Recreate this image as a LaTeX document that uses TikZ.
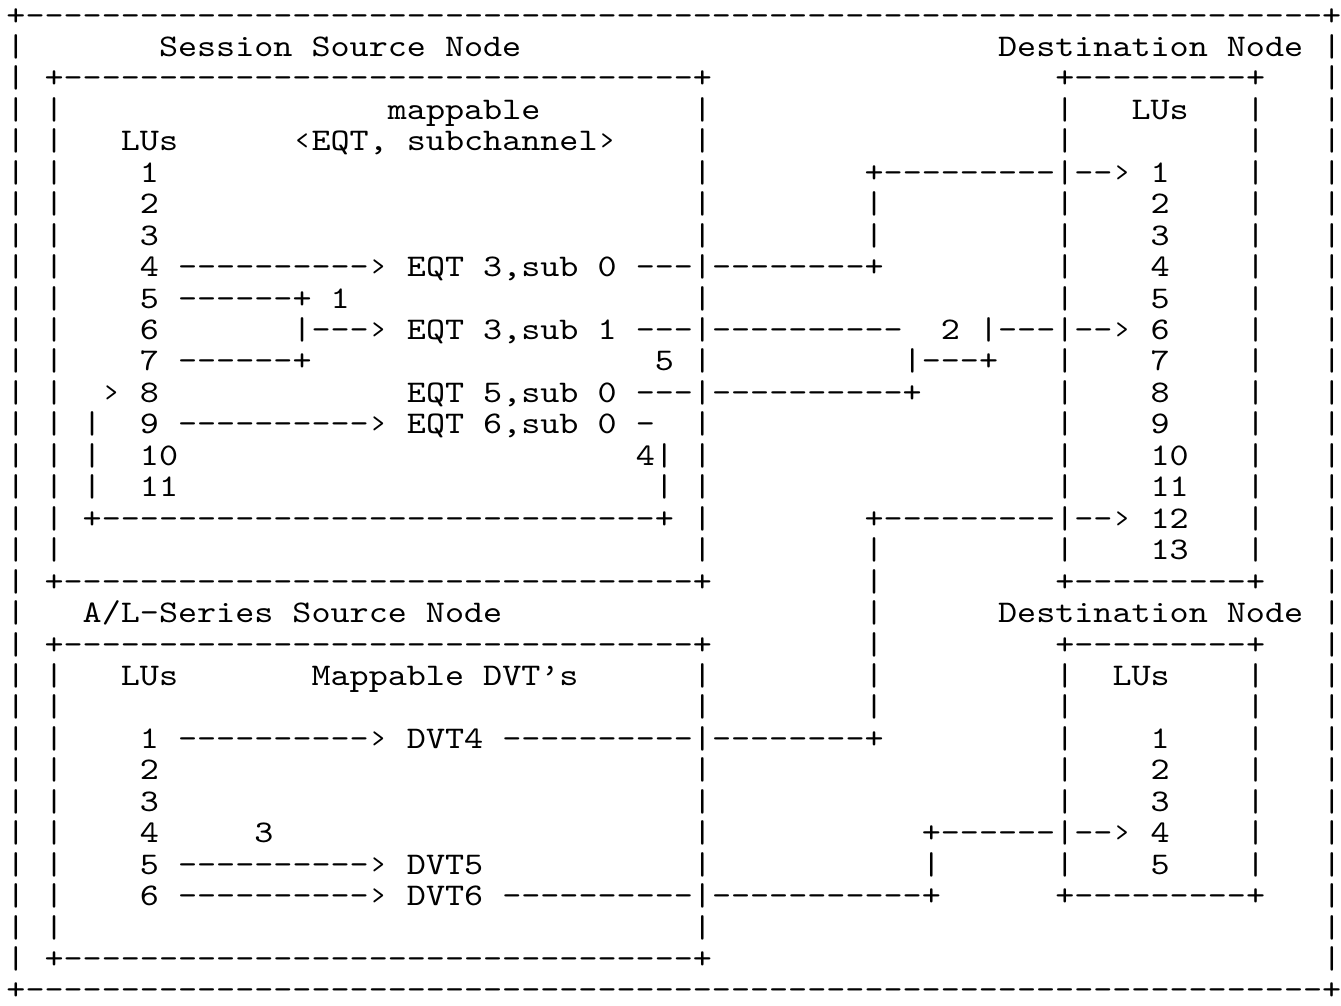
\documentclass[tikz,border=0pt]{standalone}
\usepackage{fontspec}
\setmonofont{lmmono10-regular.otf}[FakeStretch=1.153]
\newcommand\dd[1]{\foreach \k in {1,...,#1}{-}}
% place a text run at a character cell: column, row, text
\newcommand\g[3]{\node[txt] (n#2x#1) at ({16+19.07*#1-9.535},{25+31.45*#2}) {#3};}
\tikzset{txt/.style={anchor=base west, inner sep=0pt, outer sep=0pt,
  font=\ttfamily\fontsize{31.5}{32}\selectfont}}
\begin{document}
\begin{tikzpicture}[x=1pt,y=-1pt]
\useasboundingbox[fill=white] (0,0) rectangle (1341,1005);
% outer frame
\g{0}{0}{+\dd{68}+}
\g{0}{1}{|}\g{8}{1}{Session Source Node}\g{52}{1}{Destination Node}\g{69}{1}{|}
\g{0}{2}{|}\g{2}{2}{+\dd{33}+}\g{55}{2}{+\dd{9}+}\g{69}{2}{|}
\g{0}{3}{|}\g{2}{3}{|}\g{20}{3}{mappable}\g{36}{3}{|}\g{55}{3}{|}\g{59}{3}{LUs}\g{65}{3}{|}\g{69}{3}{|}
\g{0}{4}{|}\g{2}{4}{|}\g{6}{4}{LUs}\g{15}{4}{‹EQT, subchannel›}\g{36}{4}{|}\g{55}{4}{|}\g{65}{4}{|}\g{69}{4}{|}
\g{0}{5}{|}\g{2}{5}{|}\g{7}{5}{1}\g{36}{5}{|}\g{45}{5}{+\dd{9}|--›}\g{60}{5}{1}\g{65}{5}{|}\g{69}{5}{|}
\g{0}{6}{|}\g{2}{6}{|}\g{7}{6}{2}\g{36}{6}{|}\g{45}{6}{|}\g{55}{6}{|}\g{60}{6}{2}\g{65}{6}{|}\g{69}{6}{|}
\g{0}{7}{|}\g{2}{7}{|}\g{7}{7}{3}\g{36}{7}{|}\g{45}{7}{|}\g{55}{7}{|}\g{60}{7}{3}\g{65}{7}{|}\g{69}{7}{|}
\g{0}{8}{|}\g{2}{8}{|}\g{7}{8}{4}\g{9}{8}{\dd{10}›}\g{21}{8}{EQT 3,sub 0}\g{33}{8}{---|\dd{8}+}\g{55}{8}{|}\g{60}{8}{4}\g{65}{8}{|}\g{69}{8}{|}
\g{0}{9}{|}\g{2}{9}{|}\g{7}{9}{5}\g{9}{9}{\dd{6}+}\g{17}{9}{1}\g{36}{9}{|}\g{55}{9}{|}\g{60}{9}{5}\g{65}{9}{|}\g{69}{9}{|}
\g{0}{10}{|}\g{2}{10}{|}\g{7}{10}{6}\g{15}{10}{|---›}\g{21}{10}{EQT 3,sub 1}\g{33}{10}{---|\dd{10}}\g{49}{10}{2}\g{51}{10}{|---|--›}\g{60}{10}{6}\g{65}{10}{|}\g{69}{10}{|}
\g{0}{11}{|}\g{2}{11}{|}\g{7}{11}{7}\g{9}{11}{\dd{6}+}\g{34}{11}{5}\g{36}{11}{|}\g{47}{11}{|---+}\g{55}{11}{|}\g{60}{11}{7}\g{65}{11}{|}\g{69}{11}{|}
\g{0}{12}{|}\g{2}{12}{|}\g{5}{12}{›}\g{7}{12}{8}\g{21}{12}{EQT 5,sub 0}\g{33}{12}{---|\dd{10}+}\g{55}{12}{|}\g{60}{12}{8}\g{65}{12}{|}\g{69}{12}{|}
\g{0}{13}{|}\g{2}{13}{|}\g{4}{13}{|}\g{7}{13}{9}\g{9}{13}{\dd{10}›}\g{21}{13}{EQT 6,sub 0}\g{33}{13}{-}\g{36}{13}{|}\g{55}{13}{|}\g{60}{13}{9}\g{65}{13}{|}\g{69}{13}{|}
\g{0}{14}{|}\g{2}{14}{|}\g{4}{14}{|}\g{7}{14}{10}\g{33}{14}{4|}\g{36}{14}{|}\g{55}{14}{|}\g{60}{14}{10}\g{65}{14}{|}\g{69}{14}{|}
\g{0}{15}{|}\g{2}{15}{|}\g{4}{15}{|}\g{7}{15}{11}\g{34}{15}{|}\g{36}{15}{|}\g{55}{15}{|}\g{60}{15}{11}\g{65}{15}{|}\g{69}{15}{|}
\g{0}{16}{|}\g{2}{16}{|}\g{4}{16}{+\dd{29}+}\g{36}{16}{|}\g{45}{16}{+\dd{9}|--›}\g{60}{16}{12}\g{65}{16}{|}\g{69}{16}{|}
\g{0}{17}{|}\g{2}{17}{|}\g{36}{17}{|}\g{45}{17}{|}\g{55}{17}{|}\g{60}{17}{13}\g{65}{17}{|}\g{69}{17}{|}
\g{0}{18}{|}\g{2}{18}{+\dd{33}+}\g{45}{18}{|}\g{55}{18}{+\dd{9}+}\g{69}{18}{|}
\g{0}{19}{|}\g{4}{19}{A/L-Series Source Node}\g{45}{19}{|}\g{52}{19}{Destination Node}\g{69}{19}{|}
\g{0}{20}{|}\g{2}{20}{+\dd{33}+}\g{45}{20}{|}\g{55}{20}{+\dd{9}+}\g{69}{20}{|}
\g{0}{21}{|}\g{2}{21}{|}\g{6}{21}{LUs}\g{16}{21}{Mappable DVT’s}\g{36}{21}{|}\g{45}{21}{|}\g{55}{21}{|}\g{58}{21}{LUs}\g{65}{21}{|}\g{69}{21}{|}
\g{0}{22}{|}\g{2}{22}{|}\g{36}{22}{|}\g{45}{22}{|}\g{55}{22}{|}\g{65}{22}{|}\g{69}{22}{|}
\g{0}{23}{|}\g{2}{23}{|}\g{7}{23}{1}\g{9}{23}{\dd{10}›}\g{21}{23}{DVT4}\g{26}{23}{\dd{10}|\dd{8}+}\g{55}{23}{|}\g{60}{23}{1}\g{65}{23}{|}\g{69}{23}{|}
\g{0}{24}{|}\g{2}{24}{|}\g{7}{24}{2}\g{36}{24}{|}\g{55}{24}{|}\g{60}{24}{2}\g{65}{24}{|}\g{69}{24}{|}
\g{0}{25}{|}\g{2}{25}{|}\g{7}{25}{3}\g{36}{25}{|}\g{55}{25}{|}\g{60}{25}{3}\g{65}{25}{|}\g{69}{25}{|}
\g{0}{26}{|}\g{2}{26}{|}\g{7}{26}{4}\g{13}{26}{3}\g{36}{26}{|}\g{48}{26}{+\dd{6}|--›}\g{60}{26}{4}\g{65}{26}{|}\g{69}{26}{|}
\g{0}{27}{|}\g{2}{27}{|}\g{7}{27}{5}\g{9}{27}{\dd{10}›}\g{21}{27}{DVT5}\g{36}{27}{|}\g{48}{27}{|}\g{55}{27}{|}\g{60}{27}{5}\g{65}{27}{|}\g{69}{27}{|}
\g{0}{28}{|}\g{2}{28}{|}\g{7}{28}{6}\g{9}{28}{\dd{10}›}\g{21}{28}{DVT6}\g{26}{28}{\dd{10}|\dd{11}+}\g{55}{28}{+\dd{9}+}\g{69}{28}{|}
\g{0}{29}{|}\g{2}{29}{|}\g{36}{29}{|}\g{69}{29}{|}
\g{0}{30}{|}\g{2}{30}{+\dd{33}+}\g{69}{30}{|}
\g{0}{31}{+\dd{68}+}
\end{tikzpicture}
\end{document}
